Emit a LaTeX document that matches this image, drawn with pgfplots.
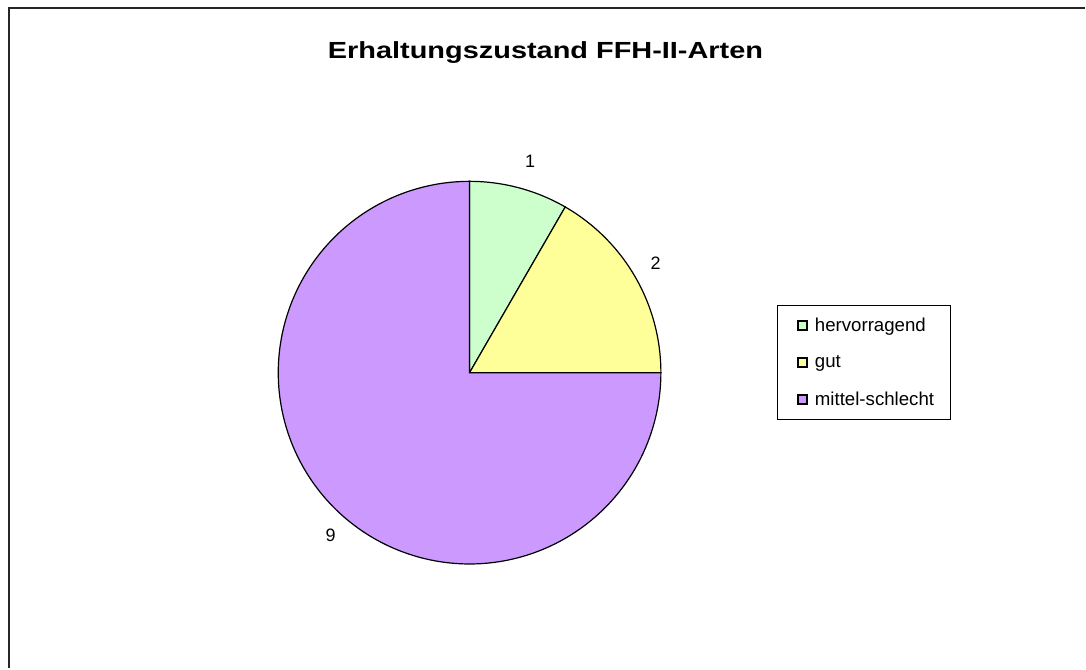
\documentclass[border=0pt]{standalone}
\usepackage{pgfplots}
\pgfplotsset{compat=1.18}
\usepackage{pgfplotstable}
\usepackage{fontspec}
\setmainfont{Liberation Sans}
\newfontfamily\titlefont[FakeStretch=1.24]{Liberation Sans Bold}
\definecolor{cgreen}{HTML}{CCFFCC}
\definecolor{cyellow}{HTML}{FFFF99}
\definecolor{cpurple}{HTML}{CC99FF}
\pgfplotstableread{
label value
hervorragend 1
gut 2
mittel-schlecht 9
}\piedata
\begin{document}
\begin{tikzpicture}
\pgfplotstablegetelem{0}{value}\of\piedata \let\va\pgfplotsretval
\pgfplotstablegetelem{1}{value}\of\piedata \let\vb\pgfplotsretval
\pgfplotstablegetelem{2}{value}\of\piedata \let\vc\pgfplotsretval
\pgfmathsetmacro\tot{\va+\vb+\vc}
\pgfmathsetmacro\aA{90}
\pgfmathsetmacro\aB{\aA-360*\va/\tot}
\pgfmathsetmacro\aC{\aB-360*\vb/\tot}
\pgfmathsetmacro\aD{\aC-360*\vc/\tot}
\pgfmathsetmacro\mA{(\aA+\aB)/2-1}
\pgfmathsetmacro\mB{(\aB+\aC)/2+0.5}
\pgfmathsetmacro\mC{(\aC+\aD)/2+4.5}
\def\cx{470}\def\cy{373}\def\R{191.5}
\begin{axis}[
  hide axis, scale only axis,
  width=814.5pt, height=501.75pt,
  xmin=0, xmax=1086, ymin=0, ymax=669,
  y dir=reverse, clip=false,
  legend cell align=left,
  legend image code/.code={\draw[#1, draw=black, line width=1.3pt] (0pt,-3.4pt) rectangle (6.8pt,3.4pt);
     \path[draw=none, fill=none] (-6pt,0pt) -- (9.8pt,0pt);},
  legend style={at={(axis cs:778,305)}, anchor=north west, draw=black, line width=0.9pt,
    font=\fontsize{14}{16.5}\selectfont, row sep=12.5pt, inner xsep=9pt, inner ysep=7.5pt,
    nodes={inner xsep=3pt}},
]
\path (axis cs:0,0) rectangle (axis cs:1086,669);
\addplot[draw=black, line width=0.9pt, fill=cgreen, domain=\aB:\aA, samples=30]
  ({\cx+\R*cos(x)},{\cy-\R*sin(x)}) -- (axis cs:\cx,\cy) -- cycle;
\addlegendentry{hervorragend}
\addplot[draw=black, line width=0.9pt, fill=cyellow, domain=\aC:\aB, samples=60]
  ({\cx+\R*cos(x)},{\cy-\R*sin(x)}) -- (axis cs:\cx,\cy) -- cycle;
\addlegendentry{gut}
\addplot[draw=black, line width=0.9pt, fill=cpurple, domain=\aD:\aC, samples=240]
  ({\cx+\R*cos(x)},{\cy-\R*sin(x)}) -- (axis cs:\cx,\cy) -- cycle;
\addlegendentry{mittel-schlecht}
\node[font=\fontsize{13.5}{15}\selectfont] at (axis cs:{\cx+220*cos(\mA)},{\cy-220*sin(\mA)}) {\va};
\node[font=\fontsize{13.5}{15}\selectfont] at (axis cs:{\cx+216*cos(\mB)},{\cy-216*sin(\mB)}) {\vb};
\node[font=\fontsize{13.5}{15}\selectfont] at (axis cs:{\cx+214*cos(\mC)},{\cy-214*sin(\mC)}) {\vc};
\node[font=\titlefont\fontsize{17.5}{20}\selectfont] at (axis cs:546,53) {Erhaltungszustand FFH-II-Arten};
\draw[line width=1.5pt, black!85] (axis cs:9.5,669) -- (axis cs:9.5,8) -- (axis cs:1086,8);
\end{axis}
\end{tikzpicture}
\end{document}
